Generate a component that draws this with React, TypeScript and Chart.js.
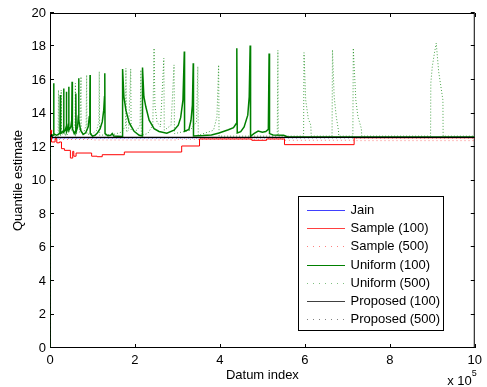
import React, { useEffect, useRef } from "react";
import { Chart, registerables } from "chart.js";

Chart.register(...registerables);

type Pt = [number, number];

const X_TICKS = [0, 2, 4, 6, 8, 10];
const Y_TICKS = [0, 2, 4, 6, 8, 10, 12, 14, 16, 18, 20];
const X_LABEL = "Datum index";
const Y_LABEL = "Quantile estimate";
const X_EXPONENT = "5";

const SERIES_NAMES = [
  "Jain",
  "Sample (100)",
  "Sample (500)",
  "Uniform (100)",
  "Uniform (500)",
  "Proposed (100)",
  "Proposed (500)",
];

const jain: Pt[] = [[0, 0], [0.004, 12.55], [10, 12.57]];

const sample100: Pt[] = [
  [0, 0], [0.003, 13.0], [0.035, 12.3], [0.12, 12.5], [0.16, 12.25], [0.22, 12.3],
  [0.27, 11.9], [0.34, 11.8], [0.48, 11.34], [0.535, 11.74], [0.56, 11.45],
  [0.614, 11.64], [0.98, 11.45], [1.11, 11.42], [1.23, 11.54], [1.75, 11.7],
  [3.1, 12.06], [3.52, 12.48], [4.75, 12.4], [5.1, 12.48], [5.52, 12.14],
  [7.16, 12.55], [10, 12.55],
];

const sample500: Pt[] = [
  [0, 0], [0.004, 13.0], [0.05, 12.45], [1.0, 12.42], [3.0, 12.46],
  [5.5, 12.4], [7.2, 12.38], [10, 12.38],
];

const uniform100: Pt[] = [
  [0, 0], [0.005, 12.6], [0.04, 12.72], [0.08, 12.7], [0.086, 12.75], [0.089, 15.8],
  [0.093, 12.8], [0.15, 12.7], [0.2, 12.75], [0.235, 12.85], [0.243, 15.1], [0.25, 12.8],
  [0.28, 12.85], [0.31, 12.95], [0.322, 15.5],
  [0.328, 12.9], [0.36, 13.0], [0.38, 13.2], [0.386, 15.3], [0.392, 12.9], [0.42, 13.1],
  [0.436, 13.4], [0.441, 15.6], [0.447, 13.0], [0.49, 13.2], [0.512, 13.6], [0.52, 15.9],
  [0.527, 13.1], [0.57, 12.8], [0.6, 12.95], [0.608, 15.2], [0.615, 12.9], [0.65, 13.2],
  [0.668, 13.9], [0.675, 16.1],
  [0.681, 13.6], [0.72, 13.0], [0.78, 12.75], [0.84, 12.85], [0.9, 13.2], [0.925, 13.8],
  [0.938, 14.6], [0.943, 16.3], [0.948, 12.8], [1.0, 12.65], [1.06, 12.7], [1.12, 12.85],
  [1.18, 13.1], [1.23, 13.5], [1.265, 14.2], [1.283, 15.0], [1.29, 16.4], [1.296, 12.8],
  [1.36, 12.68], [1.43, 12.7], [1.465, 12.8], [1.5, 12.66], [1.7, 12.62], [1.706, 12.62],
  [1.712, 16.65], [1.74, 15.0], [1.787, 14.2], [1.864, 13.45], [1.98, 12.94], [2.1, 12.7],
  [2.172, 12.66], [2.178, 16.75], [2.21, 15.0], [2.256, 14.4], [2.334, 13.6], [2.45, 13.1],
  [2.567, 12.93], [2.75, 12.82], [2.92, 13.0], [3.02, 13.3], [3.076, 13.75], [3.13, 14.8],
  [3.162, 17.7], [3.168, 12.93], [3.27, 13.05], [3.32, 13.6], [3.352, 14.5], [3.372, 17.0],
  [3.378, 12.66], [3.6, 12.68], [3.8, 12.72], [3.98, 12.84], [4.2, 13.03], [4.32, 13.15],
  [4.385, 13.4], [4.398, 17.9], [4.408, 12.84], [4.49, 12.92], [4.57, 13.2], [4.656, 13.9],
  [4.69, 15.0], [4.712, 18.06], [4.722, 12.64], [4.8, 12.8], [4.9, 12.95], [5.0, 12.88],
  [5.08, 12.92], [5.14, 13.05], [5.158, 17.58], [5.168, 12.8], [5.25, 12.72], [5.5, 12.7],
  [5.6, 12.6], [10, 12.6],
];

const uniform500: Pt[] = [
  [0, 0], [0.005, 12.6], [0.19, 12.62], [0.2, 15.4], [0.205, 12.7], [0.255, 12.7],
  [0.263, 15.4], [0.27, 12.8], [0.4, 12.7], [0.45, 12.9], [0.55, 13.1], [0.59, 13.4],
  [0.598, 15.8], [0.606, 12.8], [0.7, 12.9], [0.73, 16.2], [0.738, 12.8], [0.8, 12.9],
  [0.85, 13.3], [0.863, 16.3], [0.87, 12.75], [1.0, 12.8], [1.1, 13.0], [1.15, 13.5],
  [1.16, 16.5], [1.168, 12.7], [1.5, 12.75], [1.7, 12.9], [1.78, 13.3], [1.787, 16.7],
  [1.8, 12.9], [1.85, 13.0], [1.9, 16.67], [1.91, 13.0], [2.05, 13.0], [2.12, 13.3],
  [2.14, 16.6], [2.15, 12.7], [2.3, 12.8], [2.42, 13.3], [2.45, 17.9], [2.47, 14.5],
  [2.52, 13.5], [2.6, 13.2], [2.68, 17.3], [2.69, 13.0], [2.85, 13.3], [2.92, 16.9],
  [2.93, 12.8], [3.3, 13.0], [3.45, 13.5], [3.48, 16.8], [3.49, 12.7], [3.85, 13.0],
  [3.93, 13.8], [3.97, 16.9], [3.98, 12.65], [5.35, 12.65], [5.365, 17.77], [5.375, 12.65],
  [5.97, 12.65], [5.98, 17.63], [6.02, 14.8], [6.08, 13.7], [6.14, 13.3], [6.15, 12.65],
  [6.64, 12.65], [6.65, 17.8], [6.69, 15.0], [6.74, 13.8], [6.79, 13.0], [6.8, 12.65],
  [7.13, 12.65], [7.14, 17.9], [7.2, 14.8], [7.25, 13.8], [7.33, 13.1], [7.34, 12.65],
  [8.96, 12.65], [8.965, 15.8], [9.0, 16.8], [9.05, 17.6], [9.093, 18.2], [9.15, 16.5],
  [9.25, 14.8], [9.255, 12.65], [10, 12.65],
];

const proposed100: Pt[] = [[0, 0], [0.004, 12.6], [0.03, 12.72], [0.06, 12.58], [10, 12.57]];
const proposed500: Pt[] = [[0, 0], [0.005, 12.55], [10, 12.55]];

const FONT = "'Liberation Sans', Arial, Helvetica, sans-serif";

export default function App() {
  const ref = useRef<HTMLCanvasElement | null>(null);

  useEffect(() => {
    document.body.style.margin = "0";
    const canvas = ref.current;
    if (!canvas) return;

    const styles = [
      { color: "#0000ff", dash: [] as number[], width: 1 },
      { color: "#ff0000", dash: [], width: 1 },
      { color: "rgba(255,0,0,0.5)", dash: [1, 3], width: 1 },
      { color: "#008000", dash: [], width: 1.5 },
      { color: "rgba(0,128,0,0.7)", dash: [1, 2], width: 1 },
      { color: "#000000", dash: [], width: 1.2 },
      { color: "rgba(0,0,0,0.8)", dash: [1, 3], width: 1 },
    ];
    const legendDash = [[], [], [1, 5], [], [1, 5], [], [1, 5]];
    const legendColor = ["#4040ff", "#ff4040", "#ff8080", "#008000", "#80c080", "#404040", "#808080"];
    const seriesData = [jain, sample100, sample500, uniform100, uniform500, proposed100, proposed500];
    const steppedFlags = [false, true, true, false, false, false, false];

    const datasets = seriesData.map((pts, i) => ({
      label: SERIES_NAMES[i],
      data: pts.map(([x, y]) => ({ x, y })),
      borderColor: styles[i].color,
      backgroundColor: styles[i].color,
      borderWidth: styles[i].width,
      borderDash: styles[i].dash,
      pointRadius: 0,
      tension: 0,
      fill: false,
      stepped: steppedFlags[i] ? "before" : false,
      order: 10 - i,
    }));

    const framePlugin = {
      id: "matlabFrame",
      beforeDatasetsDraw(chart: any) {
        const { ctx, chartArea: a, scales } = chart;
        const xs = scales.x;
        const ys = scales.y;
        ctx.save();
        ctx.strokeStyle = "#000";
        ctx.lineWidth = 1;
        ctx.setLineDash([]);
        ctx.strokeRect(a.left + 0.5, a.top + 0.5, a.right - a.left - 1, a.bottom - a.top - 1);
        const tl = 4;
        ctx.beginPath();
        X_TICKS.forEach((v) => {
          const px = Math.round(xs.getPixelForValue(v)) + 0.5;
          ctx.moveTo(px, a.bottom);
          ctx.lineTo(px, a.bottom - tl);
          ctx.moveTo(px, a.top);
          ctx.lineTo(px, a.top + tl);
        });
        Y_TICKS.forEach((v) => {
          const py = Math.round(ys.getPixelForValue(v)) - 0.5;
          ctx.moveTo(a.left, py);
          ctx.lineTo(a.left + tl, py);
          ctx.moveTo(a.right, py);
          ctx.lineTo(a.right - tl, py);
        });
        ctx.stroke();
        ctx.restore();
      },
      afterDraw(chart: any) {
        const { ctx, chartArea: a } = chart;
        ctx.save();
        // exponent label
        ctx.fillStyle = "#000";
        ctx.font = `13px ${FONT}`;
        ctx.textAlign = "right";
        ctx.textBaseline = "middle";
        ctx.fillText("x 10", a.right - 3, 381.5);
        ctx.font = `9px ${FONT}`;
        ctx.textAlign = "left";
        ctx.fillText(X_EXPONENT, a.right - 3, 374);

        // legend
        const lx = 298.5, ly = 196.5, lw = 145, lh = 134;
        ctx.fillStyle = "#fff";
        ctx.fillRect(lx, ly, lw, lh);
        ctx.strokeStyle = "#000";
        ctx.lineWidth = 1;
        ctx.strokeRect(lx, ly, lw, lh);
        ctx.font = `13px ${FONT}`;
        ctx.textAlign = "left";
        ctx.textBaseline = "middle";
        SERIES_NAMES.forEach((name, i) => {
          const cy = 210 + i * 18.2;
          ctx.beginPath();
          ctx.strokeStyle = legendColor[i];
          ctx.lineWidth = 1;
          ctx.setLineDash(legendDash[i]);
          ctx.moveTo(307, Math.round(cy) + 0.5);
          ctx.lineTo(345, Math.round(cy) + 0.5);
          ctx.stroke();
          ctx.setLineDash([]);
          ctx.fillStyle = "#000";
          ctx.fillText(name, 350.5, cy + 0.5);
        });
        ctx.restore();
      },
    };

    const tickFont = { family: FONT, size: 13 };

    const chart = new Chart(canvas, {
      type: "line",
      data: { datasets: datasets as any },
      options: {
        animation: false,
        responsive: false,
        devicePixelRatio: 1,
        layout: { padding: { left: 0, top: 13, right: 10, bottom: 0 } },
        plugins: { legend: { display: false }, tooltip: { enabled: false } },
        elements: { line: { capBezierPoints: false } },
        scales: {
          x: {
            type: "linear",
            min: 0,
            max: 10,
            afterBuildTicks: (s: any) => {
              s.ticks = X_TICKS.map((v) => ({ value: v }));
            },
            afterFit: (s: any) => {
              s.height = 39;
            },
            grid: { display: false, drawTicks: false },
            border: { display: false },
            ticks: { padding: 5, font: tickFont, color: "#000", maxRotation: 0, autoSkip: false },
            title: {
              display: true,
              text: X_LABEL,
              font: tickFont,
              color: "#000",
              padding: { top: 0, bottom: 4 },
            },
          },
          y: {
            type: "linear",
            min: 0,
            max: 20,
            afterBuildTicks: (s: any) => {
              s.ticks = Y_TICKS.map((v) => ({ value: v }));
            },
            afterFit: (s: any) => {
              s.width = 50;
            },
            grid: { display: false, drawTicks: false },
            border: { display: false },
            ticks: { padding: 4, font: tickFont, color: "#000", autoSkip: false },
            title: {
              display: true,
              text: Y_LABEL,
              font: tickFont,
              color: "#000",
              padding: { top: 11, bottom: 0 },
            },
          },
        },
      },
      plugins: [framePlugin],
    });

    return () => chart.destroy();
  }, []);

  return <canvas ref={ref} width={487} height={387} style={{ display: "block" }} />;
}
